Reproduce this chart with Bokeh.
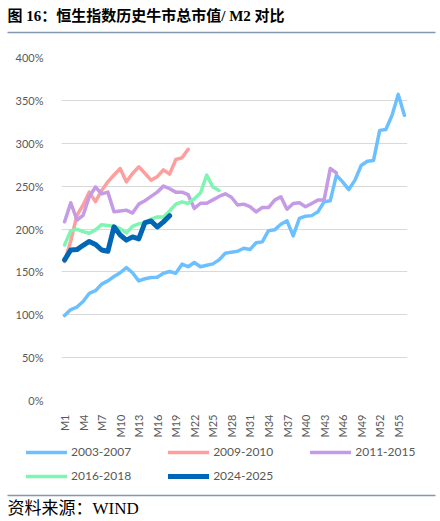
import math

from bokeh.plotting import figure
from bokeh.layouts import column
from bokeh.models import (Label, Legend, LegendItem, BoxAnnotation, FixedTicker,
                          PrintfTickFormatter, Range1d)
from bokeh.embed import file_html
from bokeh.resources import INLINE

# month labels on the x axis, every third one is shown
months = ["M%d" % i for i in range(1, 57)]
tick_months = months[::3]
y_ticks = [0, 50, 100, 150, 200, 250, 300, 350, 400]

# total market cap / M2, in percent
s_2003_2007 = [99, 106, 109, 115.5, 125, 128, 135.7, 139.5, 144.6, 149,
               155, 149, 139.5, 142, 143.4, 143.8, 148.4, 150.4, 148.4, 159,
               156, 161, 156, 157.7, 159.3, 164, 171.7, 173, 174, 177.5,
               176, 184, 185, 198, 199, 205.6, 209.5, 192, 212.4, 215,
               215.6, 220, 231.8, 233, 262.8, 255, 246, 257, 274, 279,
               280, 315, 316, 332.6, 357, 332.6]
s_2009_2010 = [162, 186, 216, 228, 243, 232, 245, 255, 263, 270.5,
               255, 264.7, 272.5, 265, 257, 261, 269, 264, 281, 283, 293]
s_2011_2015 = [208.5, 230.6, 210.5, 216, 237.6, 249, 241, 243, 220, 221,
               222, 218.6, 229, 233, 238, 243, 250, 247, 243, 243,
               240, 224, 230, 230, 234, 238, 241, 237, 228, 229,
               226, 220, 225, 225, 233.7, 237.6, 223, 229.8, 230.6, 226,
               229.8, 233.7, 233.7, 270.5, 265.5]
s_2016_2018 = [181.4, 198, 199.6, 197, 195, 199, 205, 204, 203, 200.5,
               195.5, 203, 206, 207, 211.5, 214, 214, 221, 229, 231.7,
               229.8, 235.3, 242, 262.8, 249, 245]
s_2024_2025 = [164, 175.6, 176, 181, 185.5, 182, 175.5, 174, 202.5, 193,
               187, 190.8, 188.5, 207.5, 209.3, 202.4, 208.3, 215.5]

series_names = ["2003-2007", "2009-2010", "2011-2015", "2016-2018", "2024-2025"]
series_values = [s_2003_2007, s_2009_2010, s_2011_2015, s_2016_2018, s_2024_2025]
colors = ["#6dc0ff", "#ff9e9e", "#c49be4", "#7ef5b1", "#0066b5"]
widths = [3.5, 3.5, 3.5, 3.5, 5]

TEXT_GREY = "#595959"
RULE_COLOR = "#8497b0"
W = 440


def blank_figure(height, y_top):
    # a figure whose frame is the whole canvas, y growing downwards
    f = figure(width=W, height=height, output_backend="svg",
               toolbar_location=None, frame_align=False,
               x_range=Range1d(0, W), y_range=Range1d(y_top + height, y_top),
               x_axis_type=None, y_axis_type=None,
               min_border=0, min_border_left=0, min_border_right=0,
               min_border_top=0, min_border_bottom=0)
    f.grid.visible = False
    f.outline_line_color = None
    return f


def rule(y):
    return BoxAnnotation(left=7, right=435, top=y - 0.7, bottom=y + 0.7,
                         fill_color=RULE_COLOR, fill_alpha=1, line_color=None)


def series_x(vals):
    return [months.index(m) + 1 for m in months[:len(vals)]]


# ---- header: title and rule
top = blank_figure(40, 0)
top.add_layout(Label(x=7, y=15, text="图 16：恒生指数历史牛市总市值/ M2 对比",
                     text_font="Liberation Serif, Noto Sans CJK SC",
                     text_font_style="bold", text_font_size="15px",
                     text_color="#000000", text_baseline="middle"))
top.add_layout(rule(32))

# ---- main chart
p = figure(width=W, height=400,
           output_backend="svg",
           toolbar_location=None, frame_align=False,
           x_range=Range1d(0.5, len(months) + 0.5),
           y_range=Range1d(0, 400),
           min_border_left=61, min_border_right=33,
           min_border_top=17, min_border_bottom=39)

for vals, col, w in zip(series_values, colors, widths):
    p.line(series_x(vals), vals, line_color=col, line_width=w,
           line_join="round", line_cap="round")

p.xaxis.ticker = FixedTicker(ticks=[months.index(m) + 1 for m in tick_months])
p.xaxis.major_label_overrides = {months.index(m) + 1: m for m in tick_months}
p.xaxis.major_label_orientation = math.pi / 2
p.yaxis.ticker = FixedTicker(ticks=y_ticks)
p.yaxis.formatter = PrintfTickFormatter(format="%d%%")
for ax in (p.xaxis, p.yaxis):
    ax.axis_line_color = None
    ax.major_tick_line_color = None
    ax.minor_tick_line_color = None
    ax.major_label_text_font = "Lato"
    ax.major_label_text_font_size = "11px"
    ax.major_label_text_color = TEXT_GREY
p.xaxis.major_label_standoff = 8
p.yaxis.major_label_standoff = 12

p.xgrid.visible = False
p.ygrid.grid_line_color = "#d9d9d9"
p.ygrid.grid_line_width = 1
p.outline_line_color = None

# ---- footer: legend, rule and source note
bottom = blank_figure(81, 440)
# the same series again, lying outside this strip's range, only to feed the legend
legend_lines = []
for vals, col, w in zip(series_values, colors, widths):
    legend_lines.append(bottom.line(series_x(vals), vals, line_color=col,
                                    line_width=w, line_cap="round"))


def make_legend(idx, center_y):
    items = [LegendItem(label=series_names[i], renderers=[legend_lines[i]]) for i in idx]
    # location is the legend's lower left corner, measured from the strip bottom
    return Legend(items=items, orientation="horizontal",
                  location=(26, 521 - (center_y + 10)),
                  glyph_width=41, glyph_height=20, label_standoff=4,
                  spacing=37, padding=0, margin=0,
                  border_line_color=None, background_fill_alpha=0,
                  label_text_font="Lato", label_text_font_size="12px",
                  label_text_color=TEXT_GREY)


bottom.add_layout(make_legend([0, 1, 2], 451.5))
bottom.add_layout(make_legend([3, 4], 475.5))
bottom.add_layout(rule(495))
bottom.add_layout(Label(x=7, y=507.5, text="资料来源：WIND",
                        text_font="Liberation Serif, Noto Sans CJK SC",
                        text_font_size="17px", text_color="#000000",
                        text_baseline="middle"))

layout = column(top, p, bottom, spacing=0)
open("out.html", "w").write(file_html(layout, INLINE))
